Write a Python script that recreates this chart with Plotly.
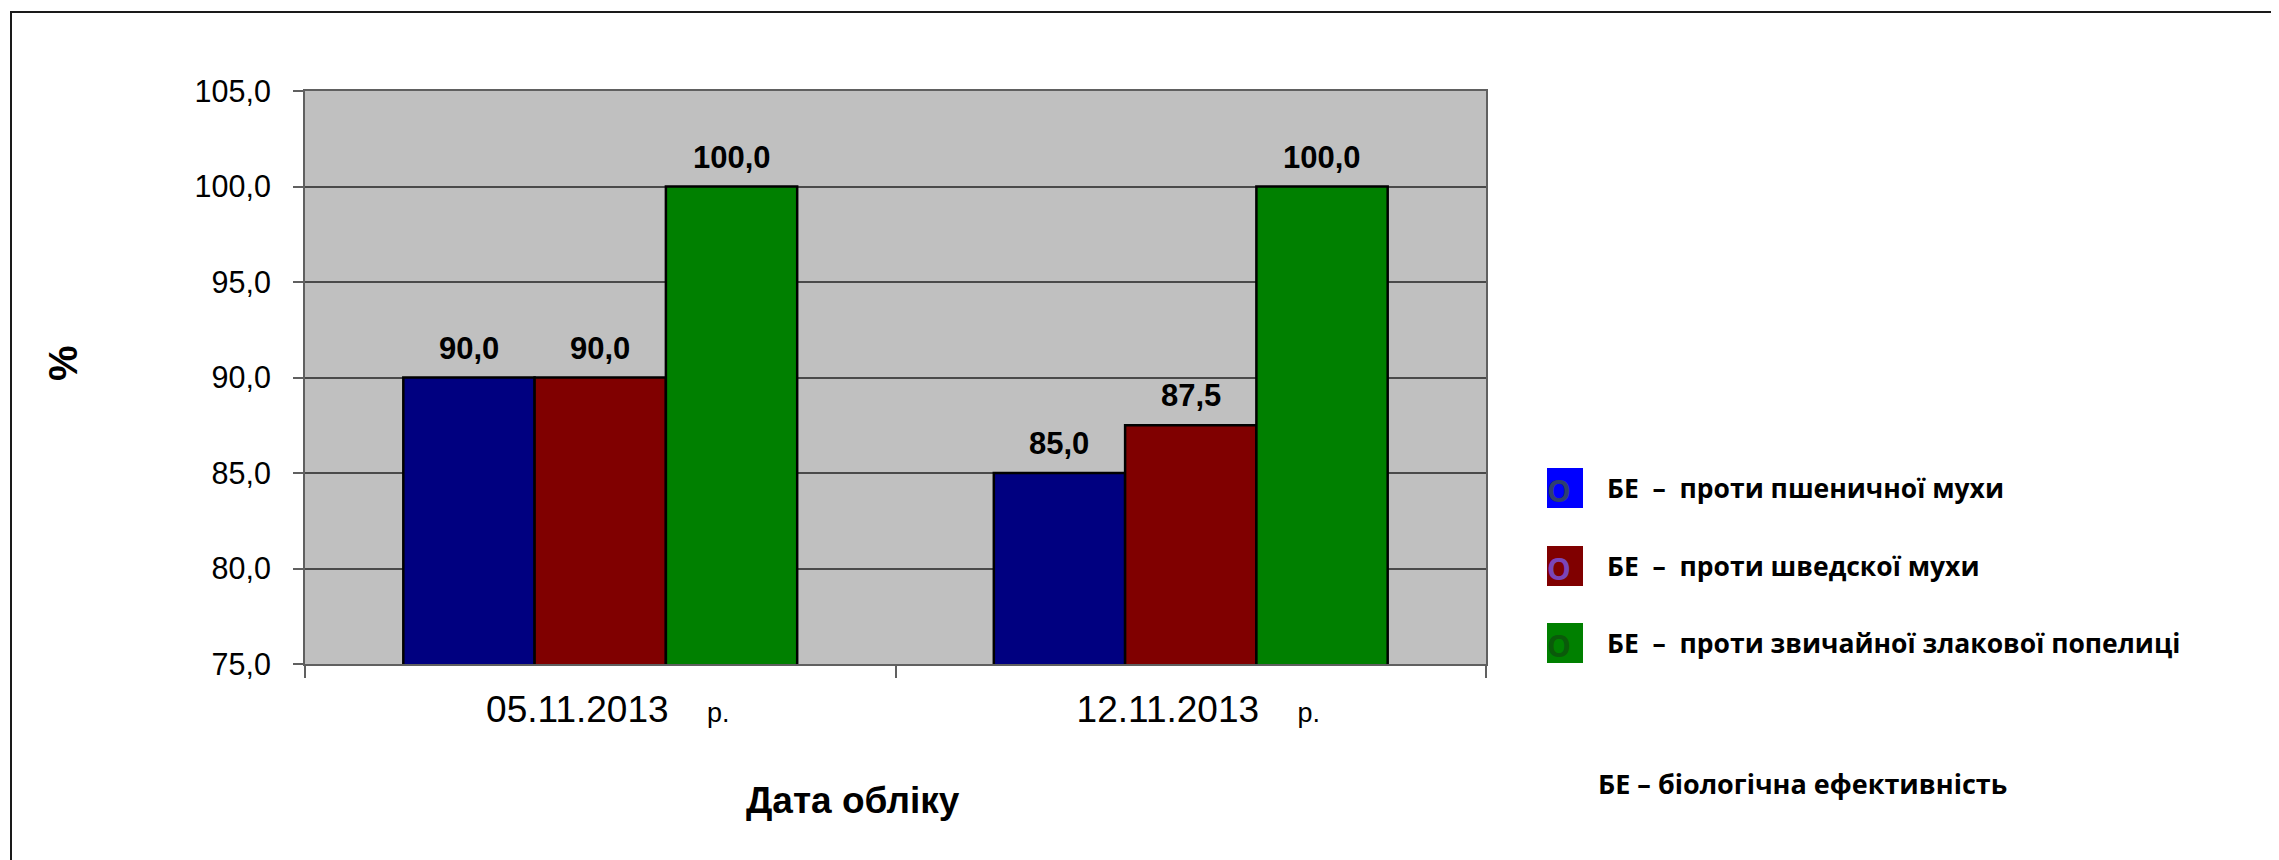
import plotly.graph_objects as go

# ---- data ----
categories = ["05.11.2013 р.", "12.11.2013 р."]
series_names = [
    "БЕ  –  проти пшеничної мухи",
    "БЕ  –  проти шведскої мухи",
    "БЕ  –  проти звичайної злакової попелиці",
]
wheat_fly = [90.0, 85.0]
swedish_fly = [90.0, 87.5]
cereal_aphid = [100.0, 100.0]
series_values = [wheat_fly, swedish_fly, cereal_aphid]
y_ticks = [75, 80, 85, 90, 95, 100, 105]
x_title = "Дата обліку"
y_title = "%"
footnote = "БЕ – біологічна ефективність"

# ---- style ----
OFF = 8  # default page body margin
W, H = 2279 - OFF, 860 - OFF
PX0, PX1, PY0, PY1 = 305 - OFF, 1486 - OFF, 91 - OFF, 664 - OFF  # plot area in figure pixels
bar_colors = ["#000080", "#800000", "#008000"]
legend_colors = ["#0000FF", "#800000", "#008000"]
legend_o_colors = ["#2F3F70", "#7A45B8", "#0A5A0A"]
FONT = "Liberation Sans, Arial, sans-serif"
LFONT = "Open Sans, Noto Sans, sans-serif"
BARGAP = 0.333


def px2x(px):
    return (px - OFF - PX0) / (PX1 - PX0)


def py2y(py):
    return (PY1 - (py - OFF)) / (PY1 - PY0)


def nb(s):
    return s.replace(" ", "\u00a0")


fig = go.Figure()
for name, vals, col in zip(series_names, series_values, bar_colors):
    fig.add_trace(go.Bar(
        x=categories, y=vals, name=name,
        marker=dict(color=col, line=dict(color="#000000", width=2.5)),
        showlegend=False,
    ))

# data labels
bar_w_px = (PX1 - PX0) / len(categories) * (1 - BARGAP) / len(series_values)
annotations = []
for i, vals in enumerate(series_values):
    off = (i - (len(series_values) - 1) / 2) * bar_w_px
    for c, v in zip(categories, vals):
        annotations.append(dict(
            x=c, y=v, xref="x", yref="y", text=f"{v:.1f}".replace(".", ","),
            showarrow=False, yanchor="bottom", xanchor="center", xshift=off, yshift=10,
            font=dict(family=FONT, size=31, color="#000000", weight="bold"),
        ))

# axis titles
annotations.append(dict(
    x=px2x(63), y=py2y(363), xref="paper", yref="paper", text=f"<b>{y_title}</b>",
    textangle=-90, showarrow=False, xanchor="center", yanchor="middle",
    font=dict(family=FONT, size=40, color="#000000"),
))
annotations.append(dict(
    x=px2x(853), y=py2y(800), xref="paper", yref="paper", text=f"<b>{x_title}</b>",
    showarrow=False, xanchor="center", yanchor="middle",
    font=dict(family=FONT, size=37, color="#000000"),
))

# custom legend
shapes = []
row_y = [488, 566, 643]
for name, col, ocol, ry in zip(series_names, legend_colors, legend_o_colors, row_y):
    shapes.append(dict(
        type="rect", xref="paper", yref="paper",
        x0=px2x(1547), x1=px2x(1583), y0=py2y(ry + 20), y1=py2y(ry - 20),
        fillcolor=col, line=dict(width=0),
    ))
    annotations.append(dict(
        x=px2x(1559), y=py2y(ry + 2), xref="paper", yref="paper", text="<b>O</b>",
        showarrow=False, xanchor="center", yanchor="middle",
        font=dict(family=LFONT, size=30, color=ocol),
    ))
    annotations.append(dict(
        x=px2x(1605), y=py2y(ry), xref="paper", yref="paper", text=f"<b>{nb(name)}</b>",
        showarrow=False, xanchor="left", yanchor="middle",
        font=dict(family=LFONT, size=26.5, color="#000000"),
    ))
annotations.append(dict(
    x=px2x(1596), y=py2y(783), xref="paper", yref="paper", text=f"<b>{footnote}</b>",
    showarrow=False, xanchor="left", yanchor="middle",
    font=dict(family=LFONT, size=27, color="#000000"),
))

# outer chart border
shapes.append(dict(
    type="rect", xref="paper", yref="paper",
    x0=px2x(11), x1=px2x(2279 + 50), y0=py2y(860 + 50), y1=py2y(12),
    line=dict(color="#1a1a1a", width=2), fillcolor="rgba(0,0,0,0)", layer="below",
))

ticktext = []
for c in categories:
    d, r = c.split(" ")
    ticktext.append(
        f"<span style='font-size:27px'>\u00a0\u00a0</span>{d}\u00a0\u00a0\u00a0"
        f"<span style='font-size:27px'>\u00a0{r}</span>"
    )

fig.update_layout(
    width=W, height=H,
    margin=dict(l=PX0, r=W - PX1, t=PY0, b=H - PY1, autoexpand=False),
    paper_bgcolor="#FFFFFF", plot_bgcolor="#C0C0C0",
    barmode="group", bargap=BARGAP, bargroupgap=0,
    separators=", ",
    font=dict(family=FONT, color="#000000"),
    annotations=annotations, shapes=shapes,
    showlegend=False,
)
fig.update_xaxes(
    type="category", tickson="boundaries", ticks="outside", ticklen=12,
    tickcolor="#606060", tickwidth=1.5,
    tickvals=categories, ticktext=ticktext,
    tickfont=dict(family=FONT, size=37, color="#000000"),
    ticklabelstandoff=12,
    showline=True, linecolor="#606060", linewidth=2, mirror=True,
    showgrid=False,
)
fig.update_yaxes(
    range=[75, 105], tickvals=y_ticks, tickformat=".1f",
    ticks="outside", ticklen=10, tickcolor="#606060", tickwidth=1.5,
    tickfont=dict(family=FONT, size=30.5, color="#000000"),
    ticklabelstandoff=16,
    showline=True, linecolor="#606060", linewidth=2, mirror=True,
    showgrid=True, gridcolor="#4a4a4a", gridwidth=1.5,
    zeroline=False,
)

fig.write_html("out.html")
